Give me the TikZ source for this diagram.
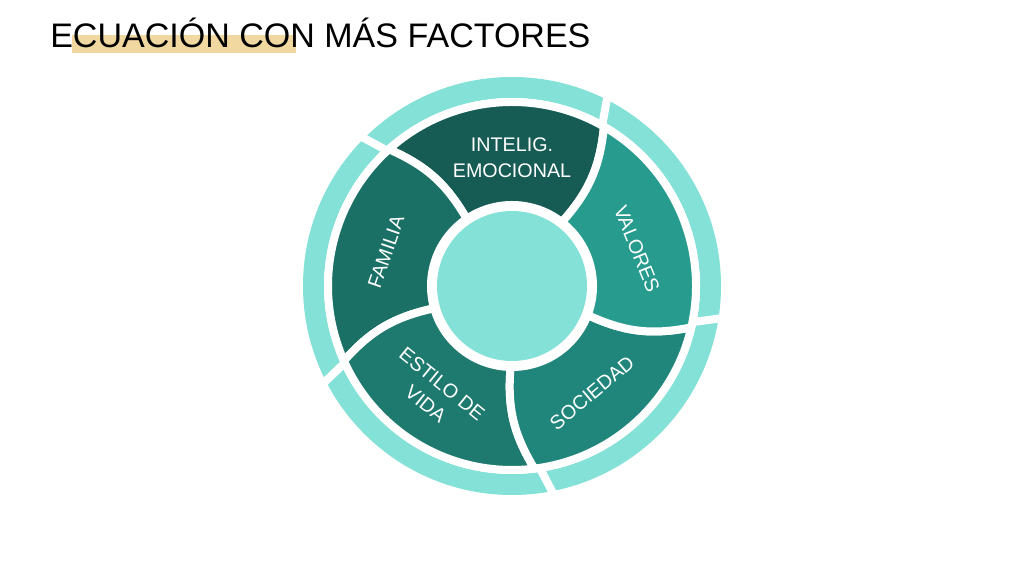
\documentclass[tikz,border=0pt]{standalone}
\usepackage{fontspec}
\setmainfont{Liberation Sans}
\usepackage{xcolor}
\usetikzlibrary{positioning}
\definecolor{lightteal}{HTML}{84E1D7}
\definecolor{intelcol}{HTML}{165C55}
\definecolor{famcol}{HTML}{1B7066}
\definecolor{estcol}{HTML}{1E7A6F}
\definecolor{soccol}{HTML}{20867B}
\definecolor{valcol}{HTML}{289B8F}
\definecolor{hilite}{HTML}{F1D8A1}
\tikzstyle{factor} = [text=white, font=\fontsize{14}{18.5}\selectfont, align=center, inner sep=0pt]
\tikzstyle{wedge} = [draw=white, line width=0.2cm, line join=round]

\begin{document}
\begin{tikzpicture}[
    x=0.025cm, y=0.025cm,
    gapline/.style={white, line width=0.2cm},
    ring/.style={lightteal, line width=0.525cm}
]
\useasboundingbox (0,0) rectangle (1024,576);
% titulo
\fill[hilite] (72,541) rectangle (296,523);
\node[anchor=base west, inner sep=0pt, font=\fontsize{24.2}{28}\selectfont] (title) at (50,528) {ECUACIÓN CON MÁS FACTORES};

\begin{scope}[shift={(512,290)}]
    \draw[ring] (0,0) circle[radius=198.5];
    \foreach \o in {132,60,-12,-82,204}
        \draw[gapline] (\o:178) -- (\o+3.5:215);
    \foreach \a/\b/\col in {52/124/intelcol, 124/196/famcol, 196/269/estcol, -91/-21/soccol, -21/52/valcol}
        \fill[\col, wedge] (\a:81) to[bend right=18] (\a+8:184)
            arc[start angle=\a+8, end angle=\b+8, radius=184]
            to[bend left=18] (\b:81)
            arc[start angle=\b, end angle=\a, radius=81] -- cycle;
    \fill[lightteal] (0,0) circle[radius=75];
\end{scope}

\node[factor] (intelig) at (512,418) {INTELIG.\\EMOCIONAL};
\node[factor, rotate=-68] (valores) at (637,327) {VALORES};
\node[factor, rotate=71] (familia) at (386,324) {FAMILIA};
\node[factor, rotate=40] (sociedad) at (592,183) {SOCIEDAD};
\node[factor, rotate=-39] (estilo) at (434,182) {ESTILO DE\\VIDA};
\end{tikzpicture}
\end{document}
